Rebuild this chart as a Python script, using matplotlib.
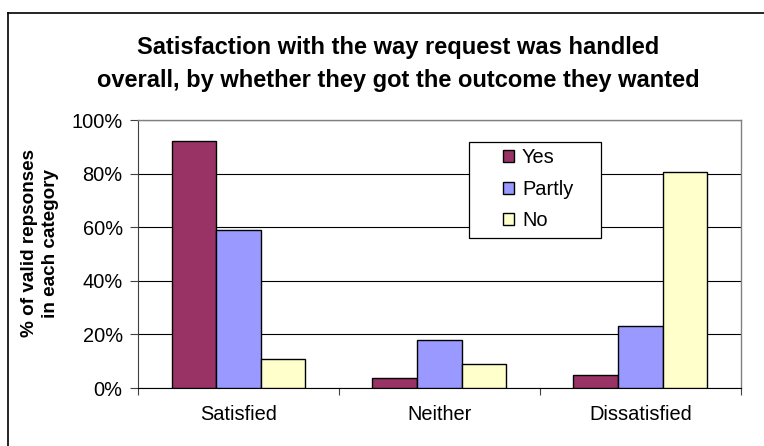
import matplotlib
matplotlib.use("Agg")
import matplotlib.pyplot as plt
from matplotlib.lines import Line2D
from matplotlib.patches import Rectangle
from matplotlib.ticker import FixedLocator, PercentFormatter
import numpy as np

categories = ["Satisfied", "Neither", "Dissatisfied"]
series_names = ["Yes", "Partly", "No"]
yes_vals = [92, 3.6, 4.7]
partly_vals = [59, 17.9, 23.2]
no_vals = [10.8, 9, 80.6]
colors = ["#993366", "#9999FF", "#FFFFCC"]
title = "Satisfaction with the way request was handled\noverall, by whether they got the outcome they wanted"
ylabel = "% of valid repsonses\nin each category"
yticks = [0, 20, 40, 60, 80, 100]

plt.rcParams['font.family'] = ['Liberation Sans', 'DejaVu Sans']

fig = plt.figure(figsize=(7.64, 4.46), dpi=100)
ax = fig.add_axes([138/764, 58/446, (741-138)/764, (388-120)/446])

x = np.arange(len(categories))
w = 1/4.5
for i, (vals, name, c) in enumerate(zip([yes_vals, partly_vals, no_vals], series_names, colors)):
    ax.bar(x + (i-1)*w, vals, width=w, color=c, edgecolor="black", linewidth=1.0,
           label=name, zorder=3)

ax.set_xlim(-0.5, len(categories)-0.5)
ax.set_ylim(0, 100)
ax.yaxis.set_major_locator(FixedLocator(yticks))
ax.yaxis.set_major_formatter(PercentFormatter(decimals=0))
ax.grid(axis="y", color="black", linewidth=0.8, zorder=0)

ax.set_xticks(np.arange(len(categories)+1) - 0.5)
ax.set_xticklabels([])
ax.set_xticks(x, minor=True)
ax.set_xticklabels(categories, minor=True)
ax.tick_params(axis="x", which="major", direction="out", length=5, width=0.8, color="#404040")
ax.tick_params(axis="x", which="minor", length=0, pad=12, labelsize=14.4)
ax.tick_params(axis="y", direction="out", length=6, width=0.8, color="#404040", labelsize=14.4, pad=5)

for s in ["top", "right"]:
    ax.spines[s].set_color("#808080")
    ax.spines[s].set_linewidth(1.0)
ax.spines["left"].set_color("#404040")
ax.spines["bottom"].set_color("black")

fig.text(40/764, 1-243/446, ylabel, ha="center", va="center", rotation=90,
         fontsize=13.6, fontweight="bold", linespacing=1.3)

fig.text(398/764, 1-64/446, title, ha="center", va="center", fontsize=17,
         fontweight="bold", linespacing=1.55)

# legend box
box = Rectangle(((469-138)/603, (388-238)/268), (601-469)/603, (238-142)/268,
                transform=ax.transAxes, facecolor="white", edgecolor="black",
                linewidth=0.9, zorder=5)
ax.add_patch(box)
leg = ax.legend(loc="upper left", bbox_to_anchor=((503-138)/603, (388-148)/268),
                frameon=False, fontsize=14.4,
                handlelength=0.55, handleheight=0.55, handletextpad=0.4,
                borderpad=0, labelspacing=0.63, borderaxespad=0)
leg.set_zorder(6)

# figure border (extends beyond image at right/bottom)
fig.add_artist(Line2D([8/764, 8/764], [0, 1-13/446], transform=fig.transFigure, color="black", linewidth=1.2))
fig.add_artist(Line2D([8/764, 1], [1-13/446, 1-13/446], transform=fig.transFigure, color="black", linewidth=1.2))

fig.savefig("out.png", dpi=100)
